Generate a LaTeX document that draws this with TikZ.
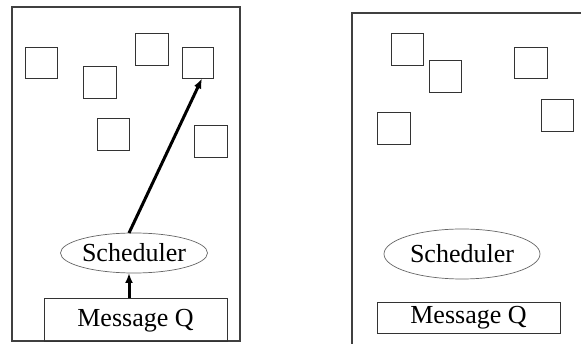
\documentclass[tikz,border=0pt]{standalone}
\usepackage{fontspec}
\setmainfont{Liberation Serif}
\usetikzlibrary{shapes.geometric,arrows.meta}
\begin{document}
\begin{tikzpicture}[x=1pt,y=-1pt,
  frame/.style={draw=black!75,line width=1.2pt},
  proc/.style={draw=black!80,line width=0.9pt,fill=white},
  big/.style={font=\fontsize{26}{26}\selectfont},
  sched/.style={draw=black!60,line width=0.7pt,ellipse,inner sep=0pt,big},
  queue/.style={draw=black!80,line width=0.9pt,inner sep=0pt,big},
  msg/.style={line width=3pt,-{Latex[length=10pt,width=8pt]}}]
\useasboundingbox (0,0) rectangle (581,344);
\clip (0,0) rectangle (581,344);
\fill[white] (0,0) rectangle (581,344);

% left node: frame, processes, scheduler and queue
\draw[frame] (12,7) rectangle (240,341);
\draw[proc] (25,47) rectangle (57,78);
\draw[proc] (83,66) rectangle (116,98);
\draw[proc] (135,33) rectangle (168,65);
\node[proc,minimum width=31pt,minimum height=31pt,inner sep=0pt] (target) at (197.5,62.5) {};
\draw[proc] (97,118) rectangle (129,150);
\draw[proc] (194,125) rectangle (227,157);
\node[sched,minimum width=140pt,minimum height=40pt] (sL) at (134,253) {Scheduler};
\node[queue,minimum width=183pt,minimum height=43pt,anchor=north west] (qL) at (44,298) {};
\node[big] at (135.5,321) {Message Q};
\coordinate (qtop) at (129,298);
\coordinate (sbot) at (129,273);
\coordinate (stop) at (129,233);
\draw[msg] (qtop) -- (sbot);
\draw[msg] (stop) -- (target.south -| 202,0);

% right node: frame, processes, scheduler and queue
\draw[frame] (352,13) rectangle (600,360);
\draw[proc] (391,33) rectangle (423,65);
\draw[proc] (429,60) rectangle (461,92);
\draw[proc] (514,47) rectangle (547,78);
\draw[proc] (541,99) rectangle (573,131);
\draw[proc] (377,112) rectangle (410,144);
\node[sched,minimum width=156pt,minimum height=50pt] (sR) at (462,254) {Scheduler};
\node[queue,minimum width=183pt,minimum height=31pt] (qR) at (468.5,317.5) {Message Q};
\end{tikzpicture}
\end{document}
